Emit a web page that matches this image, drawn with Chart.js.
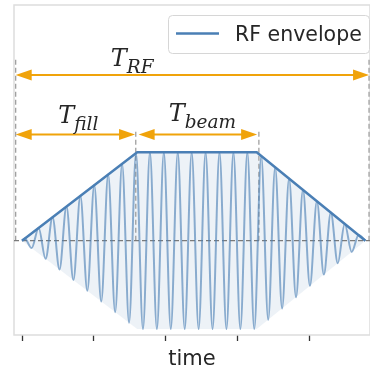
<!DOCTYPE html>
<html>
<head>
<meta charset="utf-8">
<script src="https://cdn.jsdelivr.net/npm/chart.js@4.4.1/dist/chart.umd.min.js"></script>
<style>
  html, body { margin: 0; padding: 0; background: #fff; }
  canvas { display: block; }
</style>
</head>
<body>
<canvas id="grafico" width="370" height="370"></canvas>
<script>
// Envolvente RF (trapecio): llenado, haz, caída
const envT = [0, 8, 16.3, 23.85];
const envV = [0, 1, 1, 0];
const envBajo = [0, -1, -1, 0];

// Señal RF: extremos (picos y valles)
const senalT = [0, 0.188, 0.671, 1.155, 1.638, 2.121, 2.604, 3.087, 3.570, 4.053, 4.536,
  5.019, 5.503, 5.986, 6.469, 6.952, 7.435, 7.918, 8.401, 8.884, 9.367, 9.850, 10.333,
  10.817, 11.300, 11.783, 12.266, 12.749, 13.232, 13.715, 14.198, 14.681, 15.165, 15.648,
  16.131, 16.614, 17.097, 17.580, 18.063, 18.546, 19.029, 19.512, 19.996, 20.479, 20.962,
  21.445, 21.928, 22.411, 22.894, 23.377, 23.85];
const senalV = [0, 0.024, -0.084, 0.144, -0.205, 0.265, -0.326, 0.386, -0.446, 0.507, -0.567,
  0.627, -0.688, 0.748, -0.809, 0.869, -0.929, 0.990, -1, 1, -1, 1, -1,
  1, -1, 1, -1, 1, -1, 1, -1, 1, -1, 1,
  -1, 0.958, -0.894, 0.830, -0.766, 0.703, -0.639, 0.575, -0.510, 0.446, -0.383,
  0.319, -0.255, 0.191, -0.127, 0.063, 0];

// Marcas del eje x (sin etiquetas)
const ticksX = [0, 5, 10, 15, 20];

// Líneas verticales discontinuas
const marcasT = [-0.44, 7.9, 16.45, 24.1];
const marcasAlto = [2.06, 1.25, 1.25, 2.06];

// Flechas de tiempos
const flechaInicio = [-0.44, -0.44, 8.1];
const flechaFin = [24.1, 7.85, 16.33];
const flechaY = [1.875, 1.2, 1.2];

// Etiquetas T_RF, T_fill, T_beam
const etiquetaSub = ['RF', 'fill', 'beam'];
const etiquetaX = [7.65, 3.91, 12.53];
const etiquetaY = [1.976, 1.335, 1.357];

const xMin = -0.5556, xMax = 24.167;
const yMin = -1.067, yMax = 2.666;

const azul = '#4a7fb5';
const naranja = '#f0a30a';

// Datos de las líneas discontinuas verticales (con cortes)
const puntosMarcas = [];
marcasT.forEach((t, i) => {
    puntosMarcas.push({x: t, y: 0}, {x: t, y: marcasAlto[i]}, {x: t, y: null});
});

function punta(ctx, xt, y, dir) {
    ctx.beginPath();
    ctx.moveTo(xt, y);
    ctx.lineTo(xt + dir * 16, y - 5.5);
    ctx.lineTo(xt + dir * 16, y + 5.5);
    ctx.closePath();
    ctx.fill();
}

const anotaciones = {
    id: 'anotaciones',
    beforeDatasetsDraw(chart) {
        const {ctx, chartArea: a} = chart;
        ctx.save();
        ctx.strokeStyle = '#dddddd';
        ctx.lineWidth = 1.5;
        ctx.strokeRect(a.left, a.top, a.right - a.left, a.bottom - a.top);
        ctx.restore();
    },
    afterDatasetsDraw(chart) {
        const {ctx, chartArea: a, scales: {x, y}} = chart;
        ctx.save();

        // flechas
        ctx.strokeStyle = naranja;
        ctx.fillStyle = naranja;
        ctx.lineWidth = 2;
        for (let i = 0; i < flechaInicio.length; i++) {
            const x0 = x.getPixelForValue(flechaInicio[i]);
            const x1 = x.getPixelForValue(flechaFin[i]);
            const py = y.getPixelForValue(flechaY[i]);
            ctx.beginPath();
            ctx.moveTo(x0 + 10, py);
            ctx.lineTo(x1 - 10, py);
            ctx.stroke();
            punta(ctx, x0, py, 1);
            punta(ctx, x1, py, -1);
        }

        // etiquetas matemáticas
        ctx.fillStyle = '#262626';
        ctx.textBaseline = 'alphabetic';
        const fuenteT = 'italic 24px "DejaVu Serif"';
        const fuenteSub = 'italic 18.5px "DejaVu Serif"';
        for (let i = 0; i < etiquetaSub.length; i++) {
            ctx.font = fuenteT;
            const wT = ctx.measureText('T').width;
            ctx.font = fuenteSub;
            const wS = ctx.measureText(etiquetaSub[i]).width;
            const izq = x.getPixelForValue(etiquetaX[i]) - (wT + wS) / 2;
            const base = y.getPixelForValue(etiquetaY[i]);
            ctx.font = fuenteT;
            ctx.fillText('T', izq, base);
            ctx.font = fuenteSub;
            ctx.fillText(etiquetaSub[i], izq + wT, base + 7);
        }

        // leyenda
        const bx = a.right - 202, by = a.top + 10, bw = 201, bh = 38;
        ctx.beginPath();
        ctx.roundRect(bx + 0.5, by + 0.5, bw, bh, 4);
        ctx.fillStyle = 'rgba(255,255,255,0.85)';
        ctx.fill();
        ctx.strokeStyle = '#d6d6d6';
        ctx.lineWidth = 1;
        ctx.stroke();
        ctx.strokeStyle = azul;
        ctx.lineWidth = 2.5;
        ctx.beginPath();
        ctx.moveTo(bx + 8, by + 18.5);
        ctx.lineTo(bx + 51, by + 18.5);
        ctx.stroke();
        ctx.fillStyle = '#262626';
        ctx.font = '20.5px "DejaVu Sans"';
        ctx.fillText(chart.data.datasets[0].label, bx + 67, by + 26);

        ctx.restore();
    }
};

const ctx = document.getElementById('grafico').getContext('2d');
const grafico = new Chart(ctx, {
    type: 'line',
    data: {
        datasets: [
            {
                label: 'RF envelope',
                data: envT.map((t, i) => ({x: t, y: envV[i]})),
                borderColor: azul,
                borderWidth: 2.5,
                order: 0,
            },
            {
                label: 'lower',
                data: envT.map((t, i) => ({x: t, y: envBajo[i]})),
                borderWidth: 0,
                borderColor: 'rgba(0,0,0,0)',
                backgroundColor: 'rgba(74,127,181,0.1)',
                fill: 0,
                order: 4,
            },
            {
                label: 'signal',
                data: senalT.map((t, i) => ({x: t, y: senalV[i]})),
                borderColor: 'rgba(74,127,181,0.62)',
                borderWidth: 2,
                cubicInterpolationMode: 'monotone',
                order: 1,
            },
            {
                label: 'zero',
                data: [{x: xMin, y: 0}, {x: xMax, y: 0}],
                borderColor: '#7a7a7a',
                borderWidth: 1.3,
                borderDash: [5, 3],
                order: 2,
            },
            {
                label: 'marks',
                data: puntosMarcas,
                borderColor: '#a0a0a0',
                borderWidth: 1.3,
                borderDash: [5, 3],
                spanGaps: false,
                order: 3,
            },
        ],
    },
    options: {
        responsive: false,
        animation: false,
        layout: {padding: {left: 14, top: 5, right: 0, bottom: 0}},
        elements: {point: {radius: 0}},
        plugins: {
            legend: {display: false},
            tooltip: {enabled: false},
        },
        scales: {
            x: {
                type: 'linear',
                min: xMin,
                max: xMax,
                afterBuildTicks: (s) => { s.ticks = ticksX.map(v => ({value: v})); },
                ticks: {display: false},
                grid: {drawOnChartArea: false, color: '#333', tickLength: 6, tickWidth: 1.3},
                border: {display: false},
                title: {
                    display: true,
                    text: 'time',
                    color: '#262626',
                    font: {family: 'DejaVu Sans', size: 21, lineHeight: 1},
                    padding: {top: 8, bottom: 0},
                },
            },
            y: {display: false, min: yMin, max: yMax},
        },
    },
    plugins: [anotaciones],
});
</script>
</body>
</html>
